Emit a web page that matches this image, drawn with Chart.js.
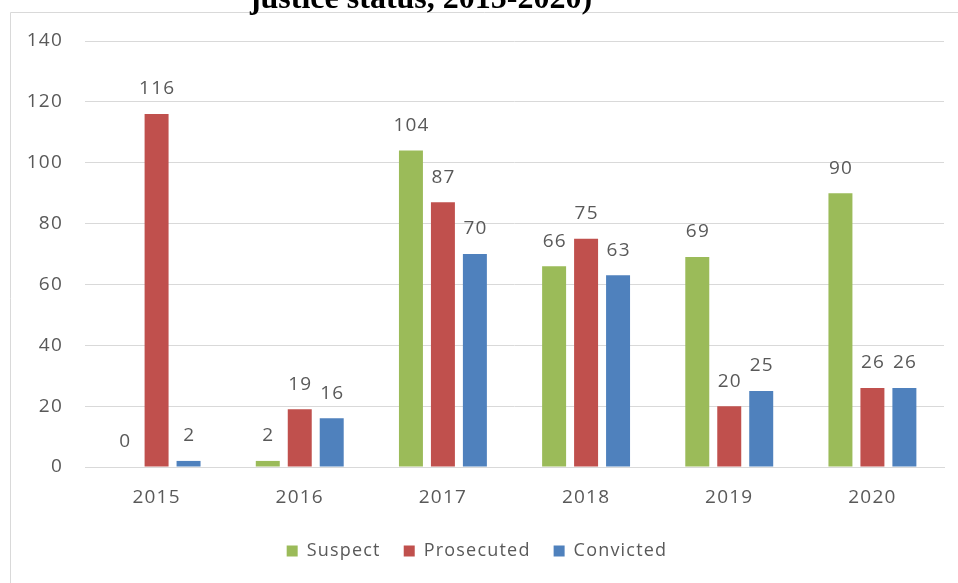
<!DOCTYPE html>
<html>
<head>
<meta charset="utf-8">
<script src="https://cdn.jsdelivr.net/npm/chart.js@4/dist/chart.umd.min.js"></script>
<style>
  html, body { margin: 0; padding: 0; background: #ffffff; }
  #wrap { position: relative; width: 958px; height: 583px; }
</style>
</head>
<body>
<div id="wrap"><canvas id="chart" width="958" height="583"></canvas></div>
<script>
// Cases by criminal justice status, per year
const years = ['2015', '2016', '2017', '2018', '2019', '2020'];
const suspect = [0, 2, 104, 66, 69, 90];
const prosecuted = [116, 19, 87, 75, 20, 26];
const convicted = [2, 16, 70, 63, 25, 26];
const yTicks = [0, 20, 40, 60, 80, 100, 120, 140];
const titleText = 'justice status, 2015-2020)';

const GREEN = '#9BBB59';
const RED = '#C0504D';
const BLUE = '#4F81BD';
const TEXT = '#595959';
const GRID = '#D9D9D9';
const SPACING = '1.2px';

// Wider letter spacing for all canvas text
const spacingPlugin = {
  id: 'spacing',
  beforeLayout(chart) { chart.ctx.letterSpacing = SPACING; },
  beforeDraw(chart) { chart.ctx.letterSpacing = SPACING; }
};

// Outer frame and the heading above it
const framePlugin = {
  id: 'frame',
  beforeDraw(chart) {
    const ctx = chart.ctx;
    ctx.save();
    ctx.strokeStyle = GRID;
    ctx.lineWidth = 1;
    ctx.beginPath();
    ctx.moveTo(10.5, 600);
    ctx.lineTo(10.5, 12.5);
    ctx.lineTo(960, 12.5);
    ctx.stroke();
    ctx.letterSpacing = '0px';
    ctx.fillStyle = '#000000';
    ctx.font = 'bold 32px "Liberation Serif", "Times New Roman", serif';
    ctx.textAlign = 'center';
    ctx.textBaseline = 'alphabetic';
    ctx.fillText(titleText, 421, 8);
    ctx.restore();
  }
};

// Value labels above each bar
const valueLabels = {
  id: 'valueLabels',
  afterDatasetsDraw(chart) {
    const ctx = chart.ctx;
    ctx.save();
    ctx.letterSpacing = SPACING;
    ctx.fillStyle = TEXT;
    ctx.font = '19px "Open Sans", sans-serif';
    ctx.textAlign = 'center';
    ctx.textBaseline = 'middle';
    chart.data.datasets.forEach((ds, di) => {
      const meta = chart.getDatasetMeta(di);
      meta.data.forEach((bar, i) => {
        ctx.fillText(String(ds.data[i]), bar.x + 0.6, bar.y - 25);
      });
    });
    ctx.restore();
  }
};

new Chart(document.getElementById('chart'), {
  type: 'bar',
  data: {
    labels: years,
    datasets: [
      { label: 'Suspect', data: suspect, backgroundColor: GREEN },
      { label: 'Prosecuted', data: prosecuted, backgroundColor: RED },
      { label: 'Convicted', data: convicted, backgroundColor: BLUE }
    ]
  },
  options: {
    responsive: false,
    animation: false,
    devicePixelRatio: 1,
    categoryPercentage: 0.67,
    barPercentage: 0.75,
    layout: { padding: { left: 10, right: 14, top: 41, bottom: 13 } },
    plugins: {
      legend: {
        position: 'bottom',
        labels: {
          color: TEXT,
          font: { family: '"Open Sans", sans-serif', size: 18 },
          boxWidth: 11,
          boxHeight: 11,
          padding: 23
        }
      },
      title: { display: false },
      tooltip: { enabled: false }
    },
    scales: {
      x: {
        grid: { display: false, drawTicks: false },
        border: { display: true, color: GRID },
        ticks: {
          color: TEXT,
          font: { family: '"Open Sans", sans-serif', size: 19 },
          padding: 19
        },
        afterFit(axis) { axis.height = 52; }
      },
      y: {
        min: 0,
        max: 140,
        afterBuildTicks(axis) { axis.ticks = yTicks.map(v => ({ value: v })); },
        grid: { color: GRID, drawTicks: false },
        border: { display: false },
        ticks: {
          color: TEXT,
          font: { family: '"Open Sans", sans-serif', size: 19 },
          padding: 22
        },
        afterFit(axis) { axis.width = 75; }
      }
    }
  },
  plugins: [spacingPlugin, framePlugin, valueLabels]
});
</script>
</body>
</html>
